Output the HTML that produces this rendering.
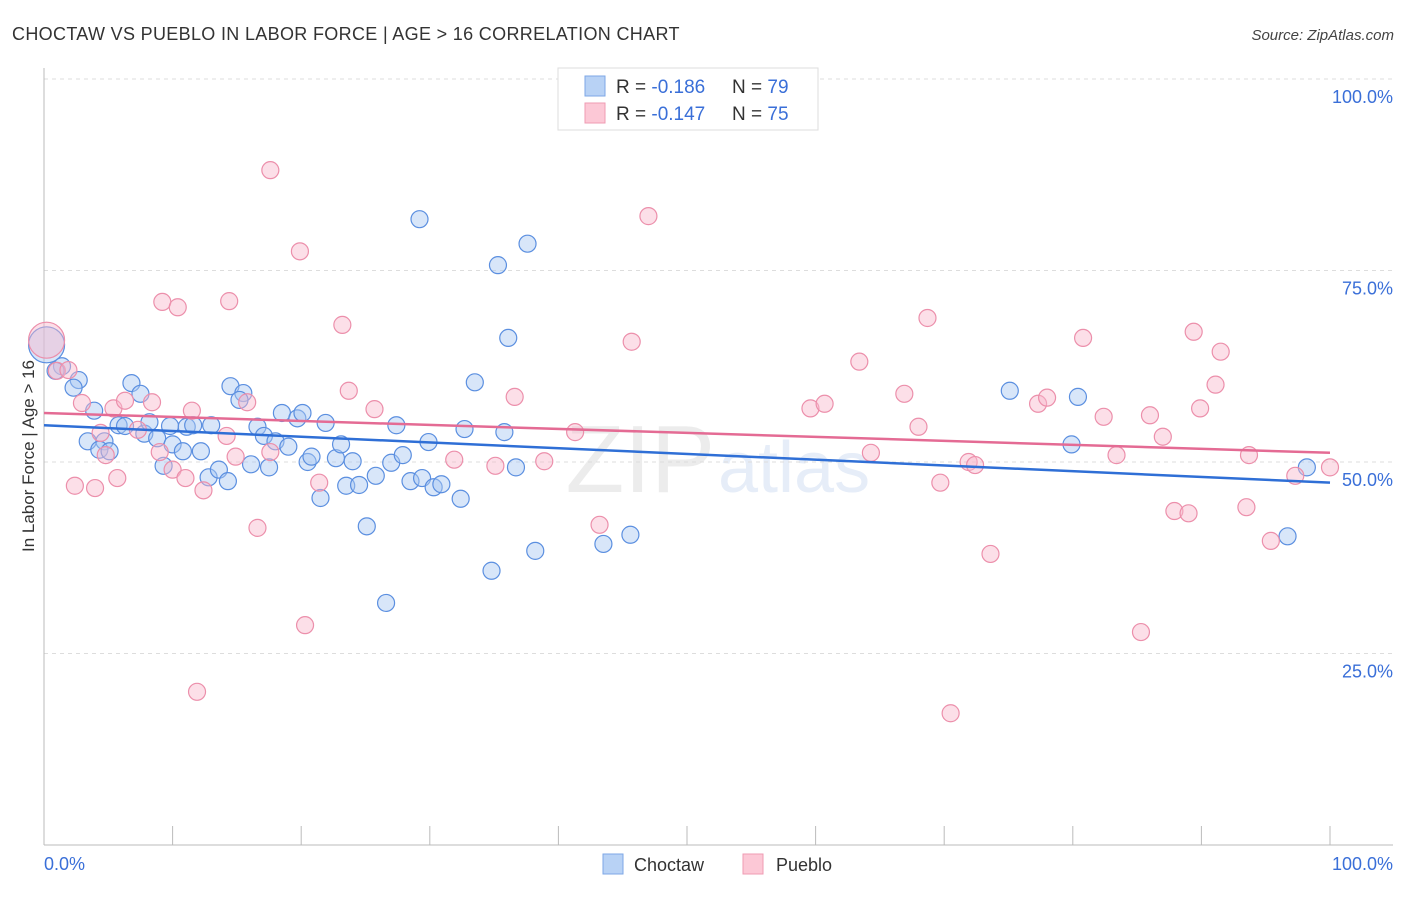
<!DOCTYPE html>
<html><head><meta charset="utf-8"><style>
body{margin:0;background:#fff;font-family:"Liberation Sans",sans-serif}
svg text{font-family:"Liberation Sans",sans-serif}
</style></head><body>
<svg id="chart" width="1406" height="892" xmlns="http://www.w3.org/2000/svg">
<text x="12" y="40" font-size="18" fill="#333" letter-spacing="0.33">CHOCTAW VS PUEBLO IN LABOR FORCE | AGE &gt; 16 CORRELATION CHART</text>
<text x="1394" y="40" font-size="15" fill="#444" font-style="italic" text-anchor="end">Source: ZipAtlas.com</text>
<text x="715" y="492" font-size="96" fill="#ececec" text-anchor="end" font-family="Liberation Serif">ZIP</text>
<text x="718" y="492" font-size="72" fill="#e6edf8">atlas</text>
<g id="grid"></g><g id="axes"></g><g id="pts"></g><g id="trend"></g>
<text x="34" y="456" font-size="17" fill="#333" text-anchor="middle" transform="rotate(-90 34 456)">In Labor Force | Age &gt; 16</text>
<text x="44" y="870" font-size="18" fill="#3a6fd8">0.0%</text>
<text x="1393" y="870" font-size="18" fill="#3a6fd8" text-anchor="end">100.0%</text>
<g>
<rect x="558" y="68" width="260" height="62" fill="#fff" stroke="#ddd"/>
<rect x="585" y="76" width="20" height="20" fill="#b8d2f5" stroke="#7ea7e6"/>
<rect x="585" y="103" width="20" height="20" fill="#fcc8d6" stroke="#ef9bb3"/>
<text x="616" y="93" font-size="19" fill="#333">R = <tspan fill="#3a6fd8">-0.186</tspan></text>
<text x="732" y="93" font-size="19" fill="#333">N = <tspan fill="#3a6fd8">79</tspan></text>
<text x="616" y="120" font-size="19" fill="#333">R = <tspan fill="#3a6fd8">-0.147</tspan></text>
<text x="732" y="120" font-size="19" fill="#333">N = <tspan fill="#3a6fd8">75</tspan></text>
</g>
<g>
<rect x="603" y="854" width="20" height="20" fill="#b8d2f5" stroke="#7ea7e6"/>
<text x="634" y="871" font-size="18" fill="#333">Choctaw</text>
<rect x="743" y="854" width="20" height="20" fill="#fcc8d6" stroke="#ef9bb3"/>
<text x="776" y="871" font-size="18" fill="#333">Pueblo</text>
</g>
</svg>
<script>
const yTicks=[25,50,75,100];
const yTickLabels=["25.0%","50.0%","75.0%","100.0%"];
const choctawX=[0.2,1.4,0.9,2.7,2.3,6.8,7.5,3.9,3.4,4.7,4.3,5.1,5.8,6.3,7.8,8.2,8.8,9.3,9.8,10.0,10.8,11.1,11.6,12.2,12.8,13.0,13.6,14.3,14.5,15.5,15.2,16.1,16.6,17.1,17.5,18.0,18.5,19.0,19.7,20.1,20.5,20.8,21.5,21.9,22.7,23.1,23.5,24.0,24.5,25.1,25.8,26.6,27.0,27.4,27.9,28.5,29.2,29.4,29.9,30.3,30.9,32.4,32.7,33.5,34.8,35.3,35.8,36.1,36.7,37.6,38.2,43.5,45.6,75.1,79.9,80.4,96.7,98.2];
const choctawY=[65.3,62.5,61.9,60.7,59.7,60.3,58.9,56.7,52.7,52.7,51.6,51.4,54.8,54.7,53.7,55.2,53.1,49.5,54.7,52.3,51.4,54.6,54.8,51.4,48.0,54.8,49.0,47.5,59.9,59.0,58.1,49.7,54.6,53.4,49.3,52.7,56.4,52.0,55.7,56.4,50.0,50.7,45.3,55.1,50.5,52.3,46.9,50.1,47.0,41.6,48.2,31.6,49.9,54.8,50.9,47.5,81.7,47.9,52.6,46.7,47.1,45.2,54.3,60.4,35.8,75.7,53.9,66.2,49.3,78.5,38.4,39.3,40.5,59.3,52.3,58.5,40.3,49.3];
const puebloX=[0.2,1.0,1.9,2.4,2.95,3.97,4.4,4.8,5.4,5.7,6.3,7.3,8.4,9.0,9.2,10.0,10.4,11.0,11.5,11.9,12.4,14.2,14.4,14.9,15.8,16.6,17.6,17.6,19.9,20.3,21.4,23.2,23.7,25.7,31.9,35.1,36.6,38.9,41.3,43.2,45.7,47.0,59.6,60.7,63.4,64.3,66.9,68.0,68.7,69.7,70.5,71.9,72.4,73.6,77.3,78.0,80.8,82.4,83.4,85.3,86.0,87.0,87.9,89.0,89.4,89.9,91.1,91.5,93.5,93.7,95.4,97.3,100];
const puebloY=[65.9,61.9,62.0,46.9,57.7,46.6,53.8,50.9,57.0,47.9,58.0,54.2,57.8,51.3,70.9,49.0,70.2,47.9,56.7,20.0,46.3,53.4,71.0,50.7,57.8,41.4,88.1,51.3,77.5,28.7,47.3,67.9,59.3,56.9,50.3,49.5,58.5,50.1,53.9,41.8,65.7,82.1,57.0,57.6,63.1,51.2,58.9,54.6,68.8,47.3,17.2,50.0,49.6,38.0,57.6,58.4,66.2,55.9,50.9,27.8,56.1,53.3,43.6,43.3,67.0,57.0,60.1,64.4,44.1,50.9,39.7,48.2,49.3];
const choctawTrend=[54.8,47.3];
const puebloTrend=[56.4,51.2];
const NS="http://www.w3.org/2000/svg";
const X=v=>44+v*12.86, Y=v=>845-v*7.66;
function mk(tag,attrs,parent){const e=document.createElementNS(NS,tag);for(const k in attrs)e.setAttribute(k,attrs[k]);document.getElementById(parent).appendChild(e);return e;}
yTicks.forEach((t,i)=>{
 const l=mk('line',{x1:44,x2:1393,y1:Y(t),y2:Y(t),stroke:'#ddd','stroke-dasharray':'4,4'},'grid');
 
 
 const tx=mk('text',{x:1393,y:Y(t)+24,'font-size':18,fill:'#3a6fd8','text-anchor':'end'},'grid');
 tx.textContent=yTickLabels[i];
 
 
});
let a=mk('line',{x1:44,x2:44,y1:68,y2:845,stroke:'#bbb'},'axes');


a=mk('line',{x1:44,x2:1393,y1:845,y2:845,stroke:'#bbb'},'axes');


for(let i=1;i<=10;i++){const t=mk('line',{x1:X(i*10),x2:X(i*10),y1:826,y2:845,stroke:'#bbb'},'axes');
 
 }
function pts(xs,ys,fill,stroke,name){xs.forEach((x,i)=>{const c=mk('circle',{cx:X(x),cy:Y(ys[i]),r:i==0?18:8.5,fill:fill,'fill-opacity':0.45,stroke:stroke,'stroke-width':1.2},'pts');
 
 });}
pts(choctawX,choctawY,'#a9c8f2','#5b8fe0','choctaw-point');
pts(puebloX,puebloY,'#f9b8cb','#ec8fab','pueblo-point');
let tl=mk('line',{x1:X(0),x2:X(100),y1:Y(puebloTrend[0]),y2:Y(puebloTrend[1]),stroke:'#e46b94','stroke-width':2.5},'trend');


tl=mk('line',{x1:X(0),x2:X(100),y1:Y(choctawTrend[0]),y2:Y(choctawTrend[1]),stroke:'#2f6fd6','stroke-width':2.5},'trend');


</script>
</body></html>
